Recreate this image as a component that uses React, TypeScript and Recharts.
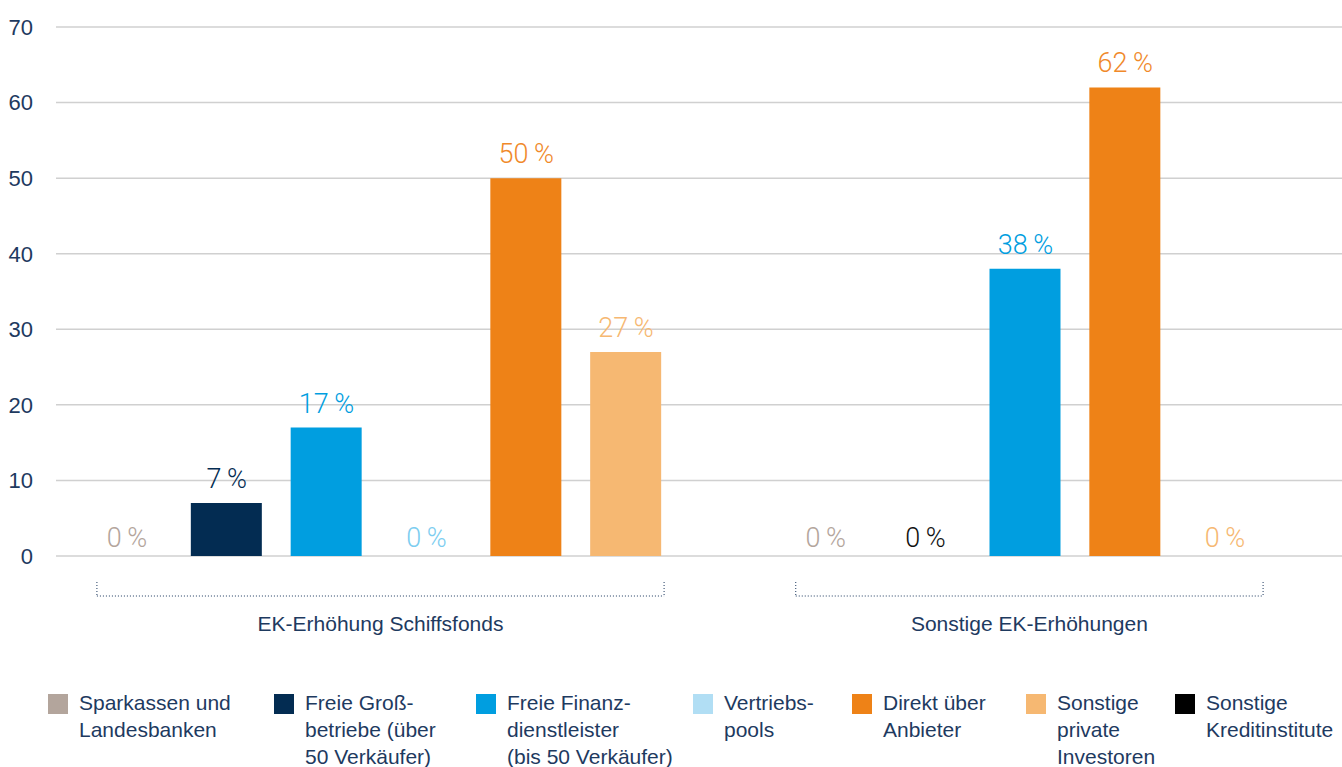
import React from "react";
import { BarChart, Bar, XAxis, YAxis, CartesianGrid, Cell, ReferenceDot } from "recharts";

// --- data ---------------------------------------------------------------
const groupNames = ["EK-Erhöhung Schiffsfonds", "Sonstige EK-Erhöhungen"];

const schiffsfondsSeries = ["sparkassen", "grossbetriebe", "finanz", "vertrieb", "direkt", "privat"];
const schiffsfondsValues = [0, 7, 17, 0, 50, 27];

const sonstigeSeries = ["sparkassen", "kredit", "finanz", "direkt", "privat"];
const sonstigeValues = [0, 0, 38, 62, 0];

const legendKeys = ["sparkassen", "grossbetriebe", "finanz", "vertrieb", "direkt", "privat", "kredit"];
const legendLabels = [
    "Sparkassen und\nLandesbanken",
    "Freie Groß-\nbetriebe (über\n50 Verkäufer)",
    "Freie Finanz-\ndienstleister\n(bis 50 Verkäufer)",
    "Vertriebs-\npools",
    "Direkt über\nAnbieter",
    "Sonstige\nprivate\nInvestoren",
    "Sonstige\nKreditinstitute",
];

const yTicks = [0, 10, 20, 30, 40, 50, 60, 70];

// --- styles -------------------------------------------------------------
const BAR_COLORS: Record<string, string> = {
    sparkassen: "#b3a59c",
    grossbetriebe: "#032c52",
    finanz: "#009ee0",
    vertrieb: "#b1def4",
    direkt: "#ee8217",
    privat: "#f6b872",
    kredit: "#000000",
};

const LABEL_COLORS: Record<string, string> = {
    ...BAR_COLORS,
    vertrieb: "#7ccdf0",
    direkt: "#f0892a",
    kredit: "#111111",
};

const TEXT = "#1e3a5f";
const FONT = "'Liberation Sans', Arial, sans-serif";

const CHART_W = 1342;
const CHART_H = 650;
const AXIS_W = 56;
const PAD_L = 21;
const PAD_R = 67;
const BRACKET_PAD_L = 30;
const BRACKET_PAD_R = 38;
const LEGEND_X = [48, 274, 476, 693, 852, 1026, 1175];

// one row per bar slot, with an empty slot between the groups
type Row = { id: string; series: string | null; value: number | null; group: number; first: boolean; count: number };

function buildRows(): Row[] {
    const out: Row[] = [];
    schiffsfondsSeries.forEach((s, i) =>
        out.push({ id: `a${i}`, series: s, value: schiffsfondsValues[i], group: 0, first: i === 0, count: schiffsfondsSeries.length }),
    );
    out.push({ id: "gap", series: null, value: null, group: -1, first: false, count: 0 });
    sonstigeSeries.forEach((s, i) =>
        out.push({ id: `b${i}`, series: s, value: sonstigeValues[i], group: 1, first: i === 0, count: sonstigeSeries.length }),
    );
    return out;
}

const rows = buildRows();
const BAND = (CHART_W - AXIS_W - PAD_L - PAD_R) / rows.length;

function GroupTick(props: any) {
    const { x, y, payload } = props;
    const idx = props.index ?? payload?.index;
    const row = rows[idx];
    if (!row || !row.first) return null;
    const x1 = x - BRACKET_PAD_L;
    const x2 = x + (row.count - 1) * BAND + BRACKET_PAD_R;
    const lineY = y + 40;
    return (
        <g>
            <line x1={x1} y1={lineY} x2={x2} y2={lineY} stroke={TEXT} strokeWidth={1} strokeDasharray="1 2" />
            <line x1={x1} y1={y + 26} x2={x1} y2={lineY} stroke={TEXT} strokeWidth={1} strokeDasharray="1 2" />
            <line x1={x2} y1={y + 26} x2={x2} y2={lineY} stroke={TEXT} strokeWidth={1} strokeDasharray="1 2" />
            <text x={(x1 + x2) / 2} y={y + 75} textAnchor="middle" fill={TEXT} fontSize={21} fontFamily={FONT}>
                {groupNames[row.group]}
            </text>
        </g>
    );
}

function ValueLabel(props: any) {
    const { viewBox, value, series } = props;
    if (!viewBox) return null;
    const ty = viewBox.y - (value === 0 ? 9 : 15);
    return (
        <text
            x={viewBox.x}
            y={ty}
            textAnchor="middle"
            fill={LABEL_COLORS[series]}
            fontSize={27}
            fontWeight={300}
            fontFamily="Roboto, 'Liberation Sans', sans-serif"
        >
            {`${value}\u2009%`}
        </text>
    );
}

function ChartLegend() {
    return (
        <div style={{ position: "absolute", left: 0, top: 688, width: CHART_W, height: 79, overflow: "hidden" }}>
            {legendKeys.map((key, i) => (
                <div key={key} style={{ position: "absolute", left: LEGEND_X[i], top: 0 }}>
                    <div
                        style={{
                            position: "absolute",
                            left: 0,
                            top: 6,
                            width: 20,
                            height: 20,
                            backgroundColor: BAR_COLORS[key],
                        }}
                    />
                    <div
                        style={{
                            position: "absolute",
                            left: 31,
                            top: 1,
                            whiteSpace: "pre",
                            fontFamily: FONT,
                            fontSize: 21,
                            lineHeight: "27px",
                            color: TEXT,
                        }}
                    >
                        {legendLabels[i]}
                    </div>
                </div>
            ))}
        </div>
    );
}

export default function App() {
    return (
        <div style={{ position: "absolute", left: 0, top: 0, width: CHART_W, height: 767, background: "#fff" }}>
            <BarChart
                width={CHART_W}
                height={CHART_H}
                data={rows}
                margin={{ top: 27, right: 0, bottom: 0, left: 0 }}
                barSize={71}
            >
                <CartesianGrid vertical={false} stroke="#d0d0d0" strokeWidth={1.5} />
                <XAxis
                    dataKey="id"
                    axisLine={false}
                    tickLine={false}
                    tickSize={0}
                    tickMargin={0}
                    height={94}
                    interval={0}
                    padding={{ left: PAD_L, right: PAD_R }}
                    tick={<GroupTick />}
                />
                <YAxis
                    width={AXIS_W}
                    domain={[0, 70]}
                    ticks={yTicks}
                    axisLine={false}
                    tickLine={false}
                    tickSize={0}
                    tickMargin={23}
                    tick={{ fill: TEXT, fontSize: 22, fontFamily: FONT }}
                />
                <Bar dataKey="value" isAnimationActive={false}>
                    {rows.map((r) => (
                        <Cell key={r.id} fill={r.series ? BAR_COLORS[r.series] : "transparent"} />
                    ))}
                </Bar>
                {rows
                    .filter((r) => r.series && r.value != null)
                    .map((r) => (
                        <ReferenceDot
                            key={`lbl-${r.id}`}
                            x={r.id}
                            y={r.value as number}
                            r={0}
                            stroke="none"
                            fill="none"
                            label={<ValueLabel value={r.value} series={r.series} />}
                        />
                    ))}
            </BarChart>
            <ChartLegend />
        </div>
    );
}
